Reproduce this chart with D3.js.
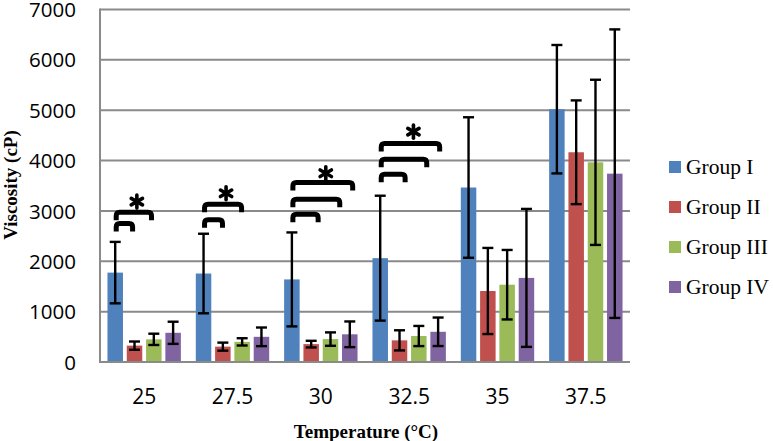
<!DOCTYPE html>
<html>
<head>
<meta charset="utf-8">
<script src="https://cdn.jsdelivr.net/npm/d3@7/dist/d3.min.js"></script>
<style>
  html, body { margin: 0; padding: 0; background: #fff; }
  svg { display: block; }
</style>
</head>
<body>
<svg id="chart" width="773" height="441"></svg>
<script>
// ---- data ----
const categories = ["25", "27.5", "30", "32.5", "35", "37.5"];
const groups = ["Group I", "Group II", "Group III", "Group IV"];
const groupI   = [1775, 1757, 1640, 2062, 3465, 5020];
const groupII  = [325, 305, 355, 430, 1410, 4165];
const groupIII = [450, 400, 455, 516, 1535, 3965];
const groupIV  = [580, 500, 550, 600, 1670, 3740];
const errI   = [610, 790, 933, 1240, 1395, 1275];
const errII  = [82, 80, 66, 200, 855, 1030];
const errIII = [112, 72, 133, 200, 690, 1640];
const errIV  = [220, 185, 255, 283, 1370, 2865];
const yTicks = [0, 1000, 2000, 3000, 4000, 5000, 6000, 7000];
// significance brackets: category, span (in bar steps from Group I), level (cP)
const bracketCat   = ["25", "25", "27.5", "27.5", "30", "30", "30", "32.5", "32.5", "32.5"];
const bracketSpan  = [1.03, 2.01, 1.11, 2.10, 1.49, 2.61, 3.28, 1.42, 2.54, 3.21];
const bracketLevel = [2800, 3025, 2873, 3183, 2985, 3282, 3614, 3779, 4077, 4388];
const starCat   = ["25", "27.5", "30", "32.5"];
const starLevel = [3185, 3350, 3748, 4574];

const values = [groupI, groupII, groupIII, groupIV];
const errors = [errI, errII, errIII, errIV];
const colors = ["#4F81BD", "#C0504D", "#9BBB59", "#8064A2"];

const svg = d3.select("#chart");
const plot = { left: 100, right: 630, top: 9.5, bottom: 362 };

const x = d3.scaleBand().domain(categories).range([plot.left, plot.right]).padding(0);
const step = 19.3;
const xg = d3.scaleBand().domain(groups)
  .range([(x.bandwidth() - 4 * step) / 2, (x.bandwidth() + 4 * step) / 2]).padding(0);
const barW = 15.5;
const y = d3.scaleLinear().domain([0, 7000]).range([plot.bottom, plot.top]);

const gridColor = "#8a8a8a";
// gridlines
svg.append("g").selectAll("line").data(yTicks.filter(d => d > 0)).join("line")
  .attr("x1", plot.left).attr("x2", plot.right)
  .attr("y1", d => y(d)).attr("y2", d => y(d))
  .attr("stroke", gridColor).attr("stroke-width", 2);

// y tick labels
svg.append("g").selectAll("text").data(yTicks).join("text")
  .attr("x", 76).attr("y", d => y(d)).attr("dy", "0.37em")
  .attr("text-anchor", "end")
  .attr("font-family", "'Open Sans', sans-serif").attr("font-size", 20.5)
  .attr("fill", "#000").text(d => d);

// bars
const barData = [];
values.forEach((arr, gi) => arr.forEach((v, ci) => barData.push({ gi, ci, v, e: errors[gi][ci] })));
const cx = d => x(categories[d.ci]) + xg(groups[d.gi]) + xg.bandwidth() / 2;

svg.append("g").selectAll("rect").data(barData).join("rect")
  .attr("x", d => cx(d) - barW / 2).attr("width", barW)
  .attr("y", d => y(d.v)).attr("height", d => y(0) - y(d.v))
  .attr("fill", d => colors[d.gi]);

// axes lines
svg.append("line").attr("x1", plot.left).attr("x2", plot.left)
  .attr("y1", plot.top - 1).attr("y2", plot.bottom + 1)
  .attr("stroke", gridColor).attr("stroke-width", 2);
svg.append("line").attr("x1", plot.left - 1).attr("x2", plot.right)
  .attr("y1", y(0)).attr("y2", y(0))
  .attr("stroke", gridColor).attr("stroke-width", 2.2);

// error bars
const eb = svg.append("g").attr("stroke", "#000").attr("stroke-width", 2.4);
const capW = 11;
eb.selectAll("line.v").data(barData).join("line").attr("class", "v")
  .attr("x1", cx).attr("x2", cx)
  .attr("y1", d => y(d.v + d.e)).attr("y2", d => y(d.v - d.e));
eb.selectAll("line.t").data(barData).join("line").attr("class", "t")
  .attr("x1", d => cx(d) - capW / 2).attr("x2", d => cx(d) + capW / 2)
  .attr("y1", d => y(d.v + d.e)).attr("y2", d => y(d.v + d.e));
eb.selectAll("line.b").data(barData).join("line").attr("class", "b")
  .attr("x1", d => cx(d) - capW / 2).attr("x2", d => cx(d) + capW / 2)
  .attr("y1", d => y(d.v - d.e)).attr("y2", d => y(d.v - d.e));

// x tick labels
svg.append("g").selectAll("text").data(categories).join("text")
  .attr("x", d => x(d) + x.bandwidth() / 2).attr("y", 404)
  .attr("text-anchor", "middle")
  .attr("font-family", "'Open Sans', sans-serif").attr("font-size", 21)
  .attr("fill", "#000").text(d => d);

// significance brackets
const sw = 5, legH = 10.5, r = 3.5;
const blueC = c => x(c) + xg(groups[0]) + xg.bandwidth() / 2;
const br = svg.append("g").attr("fill", "none").attr("stroke", "#000")
  .attr("stroke-width", sw).attr("stroke-linecap", "butt");
bracketCat.forEach((c, i) => {
  const x0 = blueC(c) - 1.5 + sw / 2;
  const x1 = blueC(c) + bracketSpan[i] * step - sw / 2;
  const top = y(bracketLevel[i]) + sw / 2;
  const bot = y(bracketLevel[i]) + legH;
  br.append("path").attr("d",
    `M${x0},${bot} L${x0},${top + r} Q${x0},${top} ${x0 + r},${top} L${x1 - r},${top} Q${x1},${top} ${x1},${top + r} L${x1},${bot}`);
});

// stars
const st = svg.append("g").attr("stroke", "#000").attr("stroke-width", 3.6).attr("stroke-linecap", "round");
starCat.forEach((c, i) => {
  const bi = bracketCat.lastIndexOf(c);
  const sx = (blueC(c) - 1.5 + blueC(c) + bracketSpan[bi] * step) / 2 + 3;
  const sy = y(starLevel[i]);
  const rad = 6.5;
  [90, 30, 150].forEach(a => {
    const t = a * Math.PI / 180;
    st.append("line")
      .attr("x1", sx - rad * Math.cos(t)).attr("y1", sy - rad * Math.sin(t))
      .attr("x2", sx + rad * Math.cos(t)).attr("y2", sy + rad * Math.sin(t));
  });
});

// legend
const lg = svg.append("g");
groups.forEach((g, i) => {
  const yy = 167 + i * 40;
  lg.append("rect").attr("x", 669).attr("y", yy - 6).attr("width", 12).attr("height", 12).attr("fill", colors[i]);
  lg.append("text").attr("x", 686).attr("y", yy).attr("dy", "0.33em")
    .attr("font-family", "'Liberation Serif', 'Times New Roman', serif").attr("font-size", 21.5)
    .attr("fill", "#000").text(g);
});

// axis titles
svg.append("text").attr("x", 366).attr("y", 438).attr("text-anchor", "middle")
  .attr("font-family", "'Liberation Serif', 'Times New Roman', serif").attr("font-weight", "bold")
  .attr("font-size", 19).attr("fill", "#000").text("Temperature (°C)");
svg.append("text").attr("transform", "translate(17,185) rotate(-90)").attr("text-anchor", "middle")
  .attr("font-family", "'Liberation Serif', 'Times New Roman', serif").attr("font-weight", "bold")
  .attr("font-size", 19).attr("fill", "#000").text("Viscosity (cP)");
</script>
</body>
</html>
